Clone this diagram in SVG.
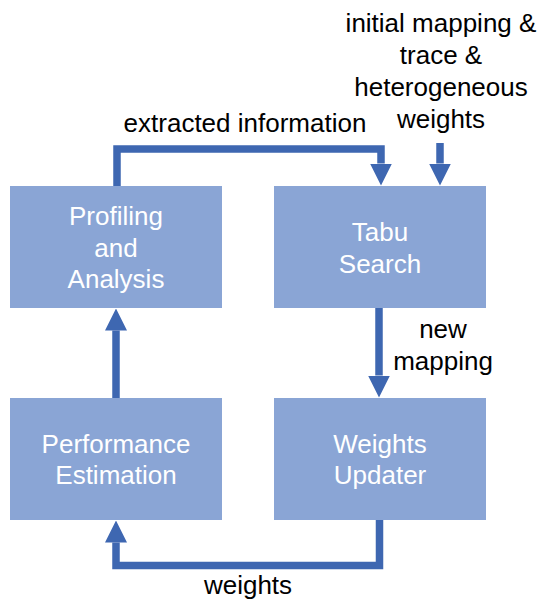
<svg xmlns="http://www.w3.org/2000/svg" width="540" height="602" viewBox="0 0 540 602">
<style>
.box{fill:#8aa5d5}
.bt{fill:#ffffff;font-family:"Liberation Sans",Arial,sans-serif;font-size:26px;text-anchor:middle}
.lt{fill:#000000;font-family:"Liberation Sans",Arial,sans-serif;font-size:26px;text-anchor:middle}
.conn{fill:none;stroke:#3e67b1;stroke-width:7.5;stroke-linejoin:miter}
</style>
<defs>
<marker id="ah" viewBox="0 -11 22 22" markerWidth="22" markerHeight="22" refX="0" refY="0" orient="auto" markerUnits="userSpaceOnUse">
<path d="M0,-11 L22,0 L0,11 Z" fill="#3e67b1"/>
</marker>
</defs>
<g id="profiling">
<rect class="box" x="10" y="186" width="212" height="122"/>
<text class="bt" x="116" y="225">Profiling</text>
<text class="bt" x="116" y="256.5">and</text>
<text class="bt" x="116" y="288">Analysis</text>
</g>
<g id="tabu">
<rect class="box" x="274" y="186" width="212" height="122"/>
<text class="bt" x="380" y="241">Tabu</text>
<text class="bt" x="380" y="272.5">Search</text>
</g>
<g id="performance">
<rect class="box" x="10" y="398" width="212" height="122"/>
<text class="bt" x="116" y="452.5">Performance</text>
<text class="bt" x="116" y="484">Estimation</text>
</g>
<g id="weights">
<rect class="box" x="274" y="398" width="212" height="122"/>
<text class="bt" x="380" y="452.5">Weights</text>
<text class="bt" x="380" y="484">Updater</text>
</g>
<g id="connectors">
<path class="conn" d="M117,186 V149 H381 V163.5" marker-end="url(#ah)"/>
<path class="conn" d="M440,143 V163.5" marker-end="url(#ah)"/>
<path class="conn" d="M379,308 V375.5" marker-end="url(#ah)"/>
<path class="conn" d="M116,398 V330.5" marker-end="url(#ah)"/>
<path class="conn" d="M379.5,520 V565.5 H116 V542.5" marker-end="url(#ah)"/>
</g>
<g id="labels">
<text class="lt" x="245" y="131.5">extracted information</text>
<text class="lt" x="441" y="32">initial mapping &amp;</text>
<text class="lt" x="441" y="64">trace &amp;</text>
<text class="lt" x="441" y="96">heterogeneous</text>
<text class="lt" x="441" y="128">weights</text>
<text class="lt" x="443" y="338">new</text>
<text class="lt" x="443" y="370">mapping</text>
<text class="lt" x="248" y="594">weights</text>
</g>
</svg>
